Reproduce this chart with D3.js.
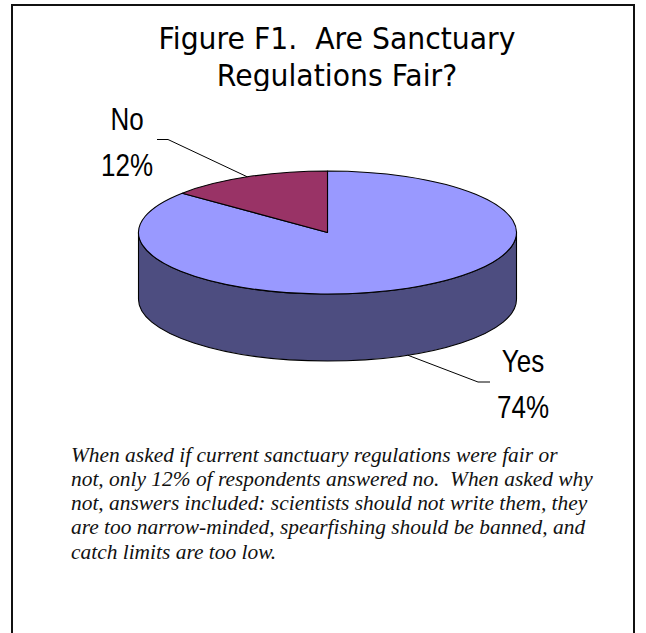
<!DOCTYPE html>
<html>
<head>
<meta charset="utf-8">
<script src="https://cdn.jsdelivr.net/npm/d3@7"></script>
<style>
  html, body { margin: 0; padding: 0; background: #fff; }
  svg { display: block; }
  svg text { white-space: pre; }
  .caption { font-family: "Liberation Serif", "DejaVu Serif", serif; font-style: italic; }
</style>
</head>
<body>
<svg id="chart" width="646" height="633"></svg>
<script>
// ---- data ----
const categories = ["Yes", "No"];
const shares = [74, 12];
const shareLabels = ["74%", "12%"];
const titleLines = ["Figure F1.  Are Sanctuary", "Regulations Fair?"];
const captionLines = [
  "When asked if current sanctuary regulations were fair or",
  "not, only 12% of respondents answered no.  When asked why",
  "not, answers included: scientists should not write them, they",
  "are too narrow-minded, spearfishing should be banned, and",
  "catch limits are too low."
];

// ---- styles ----
const topColor = { Yes: "#9999FF", No: "#993366" };
const sideColor = { Yes: "#4D4D80", No: "#4D1A33" };

// ---- layout ----
const svg = d3.select("#chart");
const cx = 327.5, cy = 232.5, rx = 189, ry = 61.5, depth = 67;

// label blocks and leader elbows per category
const labelLayout = {
  No:  { x: 127, y: [130, 175.5], elbow: [[157, 139.5], [168, 139.5]], rim: 0 },
  Yes: { x: 523, y: [371.5, 418], elbow: [[490, 382], [478, 382]],     rim: depth }
};

// frame
svg.append("path")
  .attr("d", "M12,640V5H634V640")
  .attr("fill", "none")
  .attr("stroke", "#111")
  .attr("stroke-width", 2);

// scale a text element horizontally around its anchor so it spans a given width
function fitWidth(sel, x, y, target) {
  const w = sel.node().getComputedTextLength();
  const s = target / w;
  sel.attr("x", 0).attr("y", 0)
     .attr("transform", `translate(${x},${y}) scale(${s},1)`);
  return s;
}
function placeScaled(sel, x, y, s) {
  sel.attr("x", 0).attr("y", 0)
     .attr("transform", `translate(${x},${y}) scale(${s},1)`);
}

// ---- title ----
svg.append("clipPath").attr("id", "titleClip")
  .append("rect").attr("x", 0).attr("y", 0).attr("width", 646).attr("height", 91);
const titleG = svg.append("g").attr("clip-path", "url(#titleClip)");
const titleBase = [48.5, 85.8];
const titleFont = "'DejaVu Sans', Tahoma, Verdana, sans-serif";
const t1 = titleG.append("text")
  .attr("font-family", titleFont)
  .attr("font-size", 31).attr("text-anchor", "middle").attr("fill", "#000")
  .text(titleLines[0]);
const tScale = fitWidth(t1, 337, titleBase[0], 357);
const t2 = titleG.append("text")
  .attr("font-family", titleFont)
  .attr("font-size", 31).attr("text-anchor", "middle").attr("fill", "#000")
  .text(titleLines[1]);
placeScaled(t2, 337, titleBase[1], tScale);

// ---- 3D pie ----
const data = categories.map((c, i) => ({ category: c, value: shares[i], label: shareLabels[i] }));
const pie = d3.pie().sort(null).value(d => d.value).startAngle(0).endAngle(2 * Math.PI);
const slices = pie(data);

// angles run clockwise from 12 o'clock, projected onto the tilted disc
function pt(a, z = 0) {
  return [cx + rx * Math.sin(a), cy - ry * Math.cos(a) + z];
}
function topPath(d) {
  const [x0, y0] = pt(d.startAngle);
  const [x1, y1] = pt(d.endAngle);
  const large = d.endAngle - d.startAngle > Math.PI ? 1 : 0;
  return `M${cx},${cy}L${x0},${y0}A${rx},${ry} 0 ${large} 1 ${x1},${y1}Z`;
}
function sidePath(d) {
  const s0 = Math.max(d.startAngle, Math.PI / 2);
  const s1 = Math.min(d.endAngle, 3 * Math.PI / 2);
  if (s1 <= s0) return null;
  const [ax, ay] = pt(s0), [bx, by] = pt(s1);
  const [cx2, cy2] = pt(s1, depth), [dx, dy] = pt(s0, depth);
  return `M${ax},${ay}A${rx},${ry} 0 0 1 ${bx},${by}L${cx2},${cy2}A${rx},${ry} 0 0 0 ${dx},${dy}Z`;
}

const pieG = svg.append("g");
pieG.selectAll("path.side")
  .data(slices.filter(d => sidePath(d)))
  .join("path")
  .attr("class", "side")
  .attr("d", sidePath)
  .attr("fill", d => sideColor[d.data.category])
  .attr("stroke", "#000")
  .attr("stroke-width", 1.1)
  .attr("stroke-linejoin", "round");

pieG.selectAll("path.top")
  .data(slices)
  .join("path")
  .attr("class", "top")
  .attr("d", topPath)
  .attr("fill", d => topColor[d.data.category])
  .attr("stroke", "#000")
  .attr("stroke-width", 1.1)
  .attr("stroke-linejoin", "round");

// ---- leader lines ----
const line = d3.line();
svg.selectAll("path.leader")
  .data(slices)
  .join("path")
  .attr("class", "leader")
  .attr("d", d => {
    const L = labelLayout[d.data.category];
    const mid = (d.startAngle + d.endAngle) / 2;
    const edge = pt(mid, L.rim);
    return line([L.elbow[0], L.elbow[1], edge]);
  })
  .attr("fill", "none")
  .attr("stroke", "#000")
  .attr("stroke-width", 1);

// ---- slice labels ----
const labelFont = "'Liberation Sans Narrow', 'Arial Narrow', 'Liberation Sans', Arial, sans-serif";
let labelScale = null;
const pending = [];
slices.forEach(d => {
  const L = labelLayout[d.data.category];
  [d.data.category, d.data.label].forEach((txt, j) => {
    const t = svg.append("text")
      .attr("font-family", labelFont)
      .attr("font-size", 32)
      .attr("text-anchor", "middle")
      .attr("fill", "#000")
      .text(txt);
    if (txt === "74%") labelScale = fitWidth(t, L.x, L.y[j], 52);
    else pending.push([t, L.x, L.y[j]]);
  });
});
pending.forEach(([t, x, y]) => placeScaled(t, x, y, labelScale));

// ---- caption ----
const capBase = 461.5, capStep = 24.3, capX = 71;
const capTexts = captionLines.map(txt =>
  svg.append("text")
    .attr("class", "caption")
    .attr("font-size", 21)
    .attr("fill", "#111")
    .text(txt));
const cs = 522 / capTexts[1].node().getComputedTextLength();
capTexts.forEach((t, i) => placeScaled(t, capX, capBase + i * capStep, cs));
</script>
</body>
</html>
